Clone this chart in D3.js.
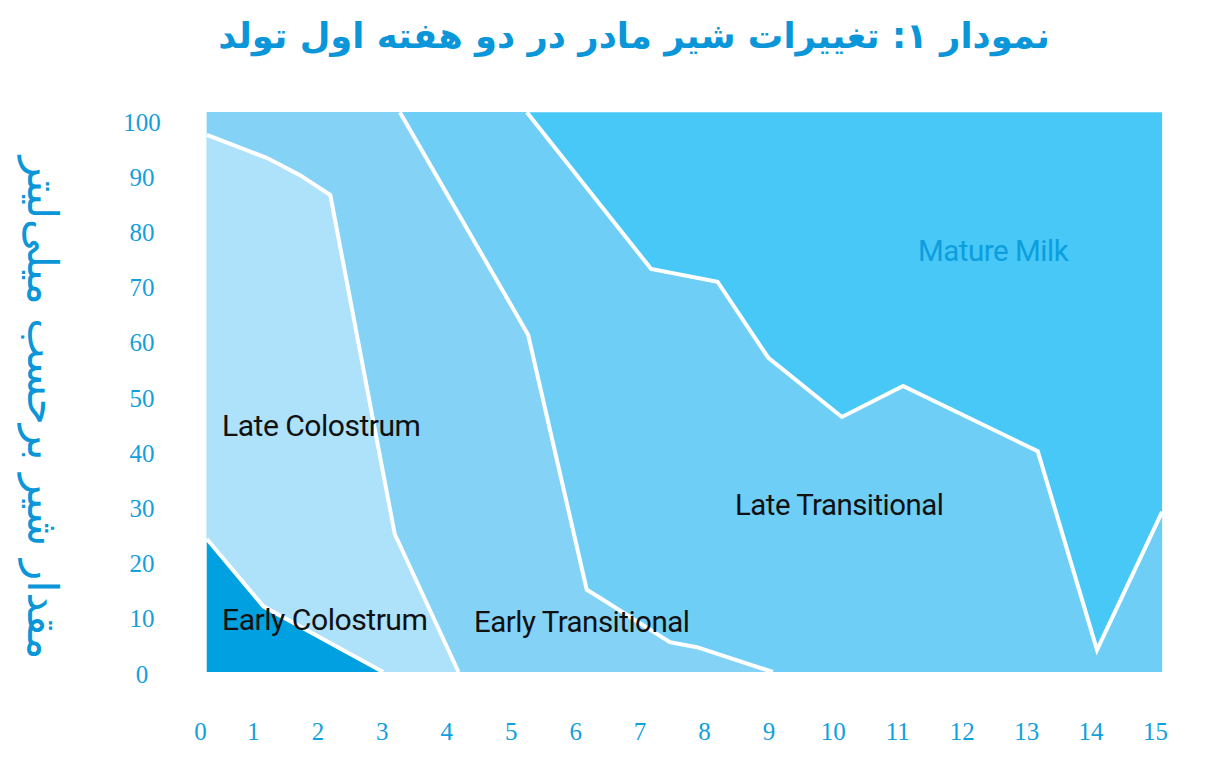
<!DOCTYPE html>
<html>
<head>
<meta charset="utf-8">
<script src="https://cdn.jsdelivr.net/npm/d3@7/dist/d3.min.js"></script>
<style>
  body { margin: 0; background: #fff; }
  svg { display: block; }
</style>
</head>
<body>
<svg id="chart" width="1205" height="777"></svg>
<script>
// days after birth on x, share of milk (ml per 100) on y
var xTicks = [0, 1, 2, 3, 4, 5, 6, 7, 8, 9, 10, 11, 12, 13, 14, 15];
var yTicks = [0, 10, 20, 30, 40, 50, 60, 70, 80, 90, 100];

var layerNames = ["Early Colostrum", "Late Colostrum", "Early Transitional", "Late Transitional", "Mature Milk"];

// upper edge of each stacked layer as [day, value]
var earlyColostrumTop = [[0.13, 24.1], [1.16, 11.9], [3.02, 0]];
var lateColostrumTop = [[0.13, 97.3], [0.62, 95.5], [1.22, 93.1], [1.73, 90.0], [2.2, 86.4], [3.2, 25.0], [4.19, 0]];
var earlyTransitionalTop = [[0.13, 101.4], [3.28, 101.4], [5.27, 61.1], [6.18, 14.9], [6.39, 13.4], [7.47, 5.4], [7.89, 4.5], [9.07, 0]];
var lateTransitionalTop = [[0.13, 101.4], [5.25, 101.4], [7.18, 73.0], [8.21, 70.7], [9.0, 56.9], [10.14, 46.2], [11.09, 51.8], [13.18, 40.0], [14.1, 4.0], [15.11, 29.0]];
var matureMilkTop = [[0.13, 101.4], [15.11, 101.4]];

var titleText = "نمودار ۱: تغییرات شیر مادر در دو هفته اول تولد";
var yTitleText = "مقدار شیر برحسب میلی‌لیتر";

var svg = d3.select("#chart");

var x = d3.scaleLinear().domain([0, 1, 15]).range([200, 253, 1155]);
var y = d3.scaleLinear().domain([0, 100]).range([672, 120]);

var layers = [
  {name: layerNames[4], top: matureMilkTop, fill: "#47c8f6"},
  {name: layerNames[3], top: lateTransitionalTop, fill: "#6fcef6"},
  {name: layerNames[2], top: earlyTransitionalTop, fill: "#84d3f7"},
  {name: layerNames[1], top: lateColostrumTop, fill: "#aee1fa"},
  {name: layerNames[0], top: earlyColostrumTop, fill: "#00a0e1"}
];

var area = d3.area()
  .x(function (d) { return x(d[0]); })
  .y0(y(0))
  .y1(function (d) { return y(d[1]); });

var line = d3.line()
  .x(function (d) { return x(d[0]); })
  .y(function (d) { return y(d[1]); });

svg.append("g").selectAll("path")
  .data(layers)
  .enter().append("path")
  .attr("d", function (d) { return area(d.top); })
  .attr("fill", function (d) { return d.fill; });

// white borders, skipping the part that runs along the top edge
var borders = [lateTransitionalTop, earlyTransitionalTop, lateColostrumTop, earlyColostrumTop].map(function (pts) {
  var start = 0;
  pts.forEach(function (p, i) { if (p[1] >= 101.4) start = i; });
  return pts.slice(start);
});

svg.append("g").selectAll("path")
  .data(borders)
  .enter().append("path")
  .attr("d", line)
  .attr("fill", "none")
  .attr("stroke", "#fff")
  .attr("stroke-width", 4)
  .attr("stroke-linejoin", "miter");

// axes
var tickColor = "#12a0dd";

var yAxis = svg.append("g")
  .attr("transform", "translate(142,0)")
  .call(d3.axisLeft(y).tickValues(yTicks).tickSize(0).tickPadding(0));
yAxis.select(".domain").remove();
yAxis.selectAll("text")
  .attr("x", 0)
  .attr("dy", "0.4em")
  .attr("text-anchor", "middle")
  .attr("fill", tickColor)
  .style("font-family", "'Liberation Serif', 'DejaVu Serif', serif")
  .style("font-size", "25px");

var xAxis = svg.append("g")
  .attr("transform", "translate(0,731)")
  .call(d3.axisBottom(x).tickValues(xTicks).tickSize(0).tickPadding(0));
xAxis.select(".domain").remove();
xAxis.selectAll("text")
  .attr("y", 0)
  .attr("dy", "0.35em")
  .attr("fill", tickColor)
  .style("font-family", "'Liberation Serif', 'DejaVu Serif', serif")
  .style("font-size", "25px");

function fitWidth(sel, w) {
  var node = sel.node();
  var len = node.getComputedTextLength();
  var fs = parseFloat(sel.style("font-size"));
  sel.style("font-size", (fs * w / len) + "px");
}

// layer labels
var labelSpots = [
  {text: layerNames[1], x: 222, y: 436, w: 198, color: "#111"},
  {text: layerNames[0], x: 222, y: 630, w: 205, color: "#111"},
  {text: layerNames[2], x: 474, y: 632, w: 215, color: "#111"},
  {text: layerNames[3], x: 735, y: 515, w: 208, color: "#111"},
  {text: layerNames[4], x: 918, y: 261, w: 150, color: "#0c9edf"}
];
labelSpots.forEach(function (l) {
  var t = svg.append("text")
    .attr("x", l.x)
    .attr("y", l.y)
    .attr("fill", l.color)
    .style("font-family", "Roboto, 'Liberation Sans', sans-serif")
    .style("font-size", "28px")
    .style("letter-spacing", "-0.5px")
    .text(l.text);
  fitWidth(t, l.w);
});

// title
var title = svg.append("text")
  .attr("x", 634)
  .attr("y", 48)
  .attr("text-anchor", "middle")
  .attr("direction", "rtl")
  .attr("fill", "#0a96d8")
  .style("font-family", "'DejaVu Sans', sans-serif")
  .style("font-weight", "bold")
  .style("font-size", "34px")
  .text(titleText);
fitWidth(title, 832);

// y title reads upward, tops of the letters facing the plot
var yTitle = svg.append("text")
  .attr("transform", "translate(28,408) rotate(90)")
  .attr("text-anchor", "middle")
  .attr("direction", "rtl")
  .attr("fill", "#0a96d8")
  .style("font-family", "'DejaVu Sans', sans-serif")
  .style("font-size", "34px")
  .text(yTitleText);
fitWidth(yTitle, 503);
</script>
</body>
</html>
